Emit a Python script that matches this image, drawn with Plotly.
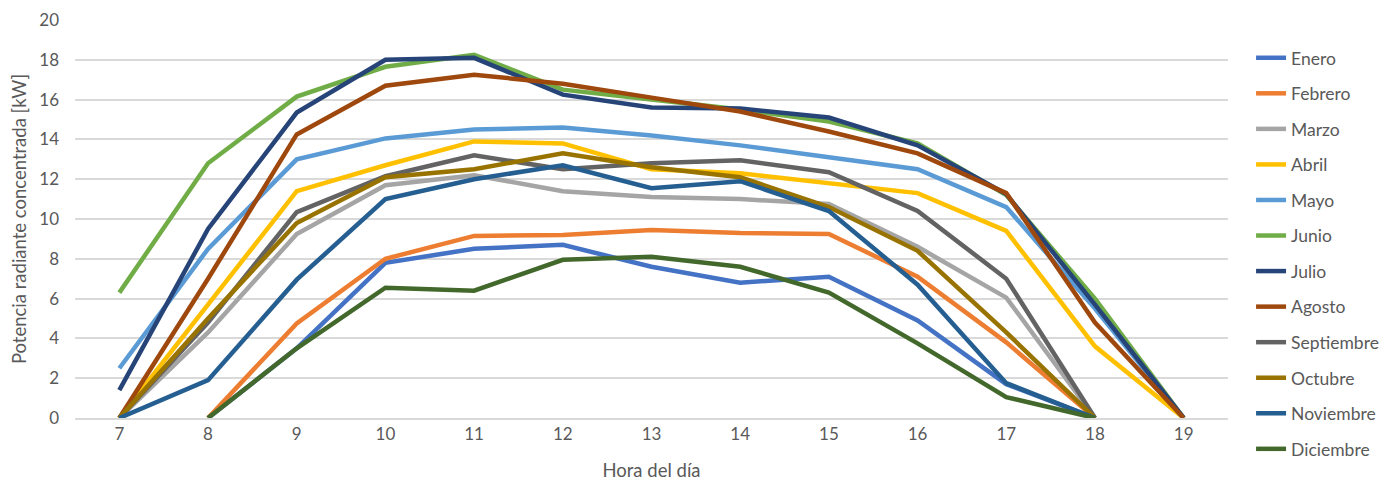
import plotly.graph_objects as go

horas = [7, 8, 9, 10, 11, 12, 13, 14, 15, 16, 17, 18, 19]

enero      = [None, 0, 3.5, 7.8, 8.5, 8.7, 7.6, 6.8, 7.1, 4.9, 1.7, 0, None]
febrero    = [None, 0, 4.75, 8.0, 9.15, 9.2, 9.45, 9.3, 9.25, 7.1, 3.8, 0, None]
marzo      = [0, 4.3, 9.25, 11.7, 12.2, 11.4, 11.1, 11.0, 10.75, 8.6, 6.05, 0, None]
abril      = [0, 5.7, 11.4, 12.7, 13.9, 13.8, 12.5, 12.3, 11.8, 11.3, 9.4, 3.6, 0]
mayo       = [2.5, 8.5, 13.0, 14.05, 14.5, 14.6, 14.2, 13.7, 13.1, 12.5, 10.6, 5.5, 0]
junio      = [6.3, 12.8, 16.15, 17.65, 18.25, 16.5, 16.0, 15.5, 14.9, 13.8, 11.2, 6.0, 0]
julio      = [1.4, 9.5, 15.35, 18.0, 18.1, 16.25, 15.6, 15.55, 15.1, 13.7, 11.25, 5.7, 0]
agosto     = [0, 7.0, 14.25, 16.7, 17.25, 16.8, 16.1, 15.4, 14.4, 13.3, 11.3, 4.8, 0]
septiembre = [0, 4.8, 10.35, 12.15, 13.2, 12.5, 12.8, 12.95, 12.35, 10.4, 7.0, 0, None]
octubre    = [0, 5.0, 9.8, 12.1, 12.5, 13.3, 12.6, 12.1, 10.6, 8.4, 4.3, 0, None]
noviembre  = [0, 1.9, 6.95, 11.0, 12.0, 12.7, 11.55, 11.9, 10.4, 6.7, 1.75, 0, None]
diciembre  = [None, 0, 3.5, 6.55, 6.4, 7.95, 8.1, 7.6, 6.3, 3.75, 1.05, 0, None]

meses = ["Enero", "Febrero", "Marzo", "Abril", "Mayo", "Junio", "Julio",
         "Agosto", "Septiembre", "Octubre", "Noviembre", "Diciembre"]
series = [enero, febrero, marzo, abril, mayo, junio, julio, agosto,
          septiembre, octubre, noviembre, diciembre]
colores = ["#4472C4", "#ED7D31", "#A5A5A5", "#FFC000", "#5B9BD5", "#70AD47",
           "#264478", "#9E480E", "#636363", "#997300", "#255E91", "#43682B"]

FONT = "Lato, 'Open Sans', sans-serif"

fig = go.Figure()
for nombre, vals, col in zip(meses, series, colores):
    fig.add_trace(go.Scatter(
        x=horas, y=vals, name=nombre, mode="lines",
        line=dict(color=col, width=4.5),
        legendgroup=nombre, connectgaps=False,
    ))

fig.update_layout(
    width=1389, height=473,
    margin=dict(l=67, r=169, t=12, b=63, autoexpand=False),
    paper_bgcolor="white", plot_bgcolor="white",
    font=dict(family=FONT, color="#595959", size=17),
    showlegend=True,
    legend=dict(
        x=1.02, y=0.95, xanchor="left", yanchor="top",
        font=dict(size=17.5, color="#595959", family=FONT),
        tracegroupgap=9.8, bgcolor="rgba(0,0,0,0)", maxheight=470,
    ),
    xaxis=dict(
        range=[6.5, 19.5], tickmode="array", tickvals=horas,
        ticktext=[str(h) for h in horas],
        showgrid=False, zeroline=False, automargin=False,
        showline=True, linecolor="#D9D9D9", linewidth=1.5,
        ticks="", tickfont=dict(size=17, color="#595959"),
        title=dict(text="Hora del día", font=dict(size=18.5, color="#595959"), standoff=28),
    ),
    yaxis=dict(
        range=[0, 20], dtick=2, showgrid=True, gridcolor="#D9D9D9", gridwidth=1.5,
        zeroline=False, showline=False, ticks="", ticklabelstandoff=15, automargin=False,
        tickfont=dict(size=17, color="#595959"),
        title=dict(text="Potencia radiante concentrada [kW]", font=dict(size=18.5, color="#595959"), standoff=8),
    ),
)

fig.write_html("out.html")
